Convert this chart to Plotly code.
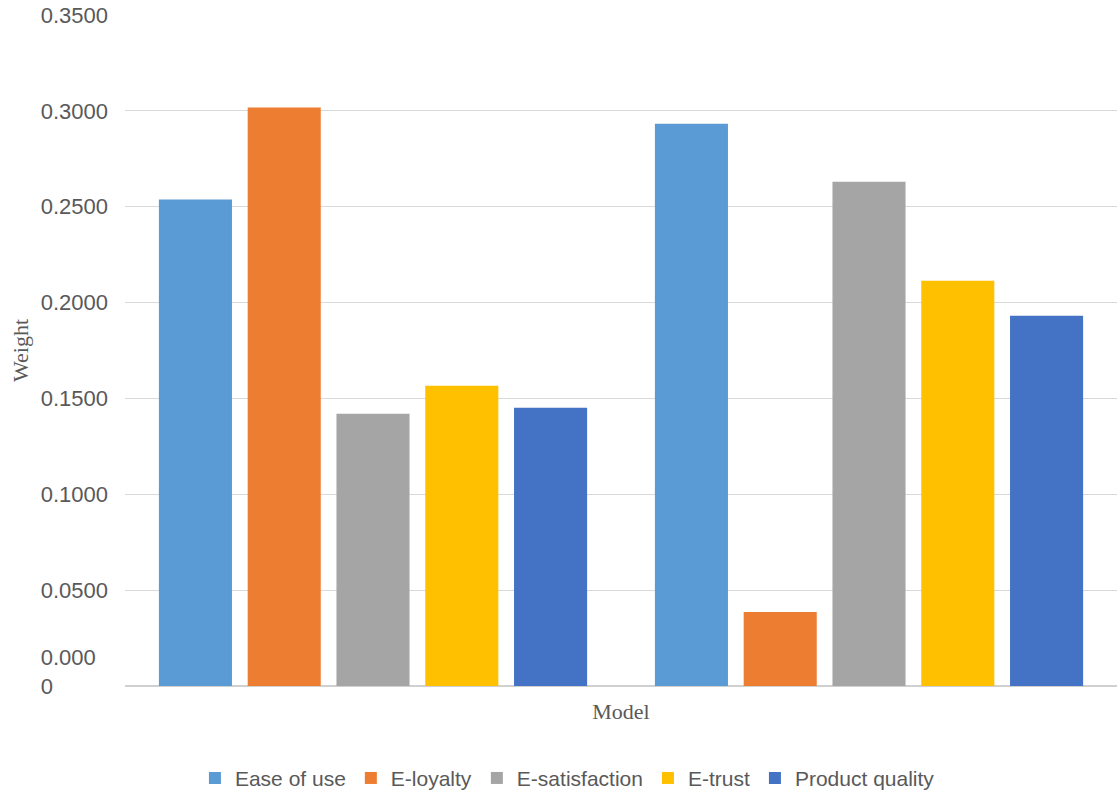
import plotly.graph_objects as go

# Two model groups, five weighted factors each
groups = ["Group 1", "Group 2"]
series_names = ["Ease of use", "E-loyalty", "E-satisfaction", "E-trust", "Product quality"]
ease_of_use = [0.2537, 0.2933]
e_loyalty = [0.3017, 0.0386]
e_satisfaction = [0.1420, 0.2630]
e_trust = [0.1566, 0.2114]
product_quality = [0.1451, 0.1931]

# zero label wraps onto two left-aligned lines (figure/punctuation spaces pad to full width)
tick_vals = [0.0, 0.05, 0.10, 0.15, 0.20, 0.25, 0.30, 0.35]
tick_text = ["0.000\u2007<br>0\u2008\u2007\u2007\u2007\u2007<br> ", "0.0500", "0.1000", "0.1500",
             "0.2000", "0.2500", "0.3000", "0.3500"]

colors = ["#5b9bd5", "#ed7d31", "#a5a5a5", "#ffc000", "#4472c4"]
values = [ease_of_use, e_loyalty, e_satisfaction, e_trust, product_quality]

serif = "Liberation Serif, Times New Roman, serif"

fig = go.Figure()
for name, vals, col in zip(series_names, values, colors):
    fig.add_trace(go.Bar(
        x=groups, y=vals, name=name,
        marker=dict(color=col, line=dict(width=0)),
    ))

fig.update_layout(
    width=1117, height=795,
    paper_bgcolor="white", plot_bgcolor="white",
    margin=dict(l=125, r=0, t=15, b=109),
    barmode="group", bargap=0.105, bargroupgap=0.177,
    font=dict(family="Liberation Sans, Arial, sans-serif", color="#595959", size=22),
    showlegend=True,
    legend=dict(
        orientation="h", xref="container", yref="container",
        x=0.508, y=0.021, xanchor="center", yanchor="middle",
        font=dict(size=21, color="#595959"),
        itemwidth=30, traceorder="normal",
    ),
    xaxis=dict(
        showticklabels=False, showgrid=False, zeroline=False,
        showline=False,
        title=dict(text="Model", font=dict(family=serif, size=22, color="#595959"), standoff=17),
    ),
    yaxis=dict(
        range=[0, 0.35], tickvals=tick_vals, ticktext=tick_text,
        showgrid=True, gridcolor="#d9d9d9", gridwidth=1,
        zeroline=True, zerolinecolor="#d0d0d0", zerolinewidth=1.5,
        ticks="", ticklabelstandoff=16,
        tickfont=dict(size=22, color="#595959"),
        title=dict(text="Weight", font=dict(family=serif, size=22, color="#595959"), standoff=6),
        automargin=False,
    ),
)

fig.write_html("out.html")
